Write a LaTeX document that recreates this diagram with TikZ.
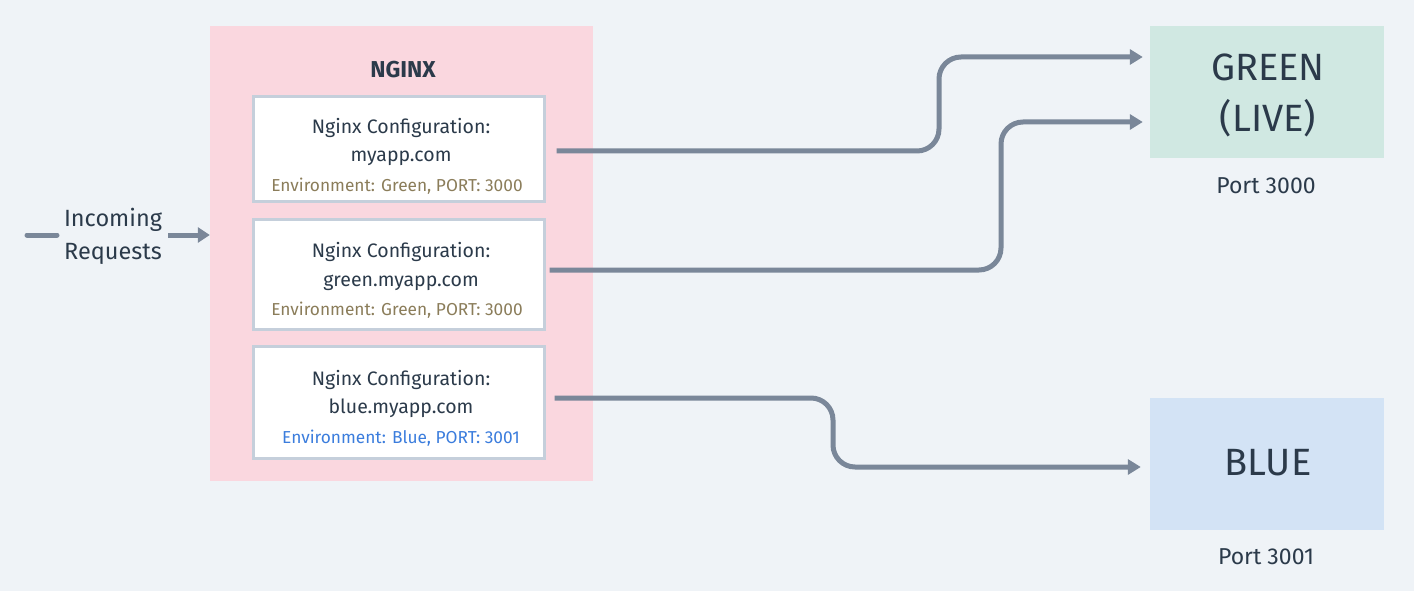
\documentclass[tikz,border=0pt]{standalone}
\usepackage{fontspec}
\setmainfont{Fira Sans}
\usetikzlibrary{arrows.meta,calc}
\definecolor{bgc}{HTML}{EFF3F7}
\definecolor{pinkc}{HTML}{FAD7DF}
\definecolor{borderc}{HTML}{C5CFDB}
\definecolor{txtc}{HTML}{2B3A4A}
\definecolor{brownc}{HTML}{8B7D5A}
\definecolor{bluetxt}{HTML}{3B7DDD}
\definecolor{greenbox}{HTML}{D0E8E2}
\definecolor{bluebox}{HTML}{D3E3F5}
\definecolor{linec}{HTML}{7A8799}
\tikzset{
  cfgbox/.style={draw=borderc, line width=3pt, fill=white, minimum width=291pt, minimum height=#1, inner sep=0pt},
  cfgtxt/.style={text=txtc, font=\fontsize{19.5}{22}\selectfont, inner sep=0pt, anchor=base},
  envtxt/.style={font=\fontsize{17.3}{20}\selectfont, inner sep=0pt, anchor=base},
  conn/.style={draw=linec, line width=5pt, rounded corners=22pt, -{Triangle[length=13pt,width=15pt]}},
  envbox/.style={minimum width=234pt, minimum height=132pt, inner sep=0pt},
  bigtxt/.style={text=txtc, font=\fontsize{38}{44}\selectfont, inner sep=0pt},
  porttxt/.style={text=txtc, font=\fontsize{23}{26}\selectfont, inner sep=0pt}
}
\begin{document}
\begin{tikzpicture}[x=1pt,y=-1pt]
\fill[bgc] (0,0) rectangle (1414,591);
\useasboundingbox (0,0) rectangle (1414,591);
% NGINX container
\node[fill=pinkc, minimum width=383pt, minimum height=455pt, inner sep=0pt] (nginx) at (401.5,253.5) {};
\node[text=txtc, font=\fontsize{23}{26}\selectfont\bfseries, inner sep=0pt] (nginxlbl) at (403,70) {NGINX};
% config boxes
\node[cfgbox=104pt] (c1) at (398.5,149) {};
\node[cfgbox=110pt] (c2) at (398.5,274) {};
\node[cfgbox=112pt] (c3) at (398.5,402) {};
\node[cfgtxt] (c1a) at (401,134) {Nginx Configuration:};
\node[cfgtxt] (c1b) at (401,162) {myapp.com};
\node[envtxt, text=brownc] (c1c) at (397,191) {Environment: Green, PORT: 3000};
\node[cfgtxt] (c2a) at (401,257) {Nginx Configuration:};
\node[cfgtxt] (c2b) at (401,286) {green.myapp.com};
\node[envtxt, text=brownc] (c2c) at (397,315) {Environment: Green, PORT: 3000};
\node[cfgtxt] (c3a) at (401,385) {Nginx Configuration:};
\node[cfgtxt] (c3b) at (401,413) {blue.myapp.com};
\node[envtxt, text=bluetxt] (c3c) at (401,443) {Environment: Blue, PORT: 3001};
% incoming
\node[text=txtc, font=\fontsize{23.5}{33}\selectfont, align=center, inner sep=0pt] (inc) at (113,236) {Incoming\\Requests};
\coordinate (incstart) at (27,235);
\draw[draw=linec, line width=5pt, line cap=round] (incstart) -- ++(30,0);
\draw[draw=linec, line width=5pt, -{Triangle[length=12pt,width=15pt]}] (168,235) -- (nginx.west |- incstart);
% environments
\node[envbox, fill=greenbox] (green) at (1267,92) {};
\node[bigtxt] (g1) at (1268,67) {GREEN};
\node[bigtxt] (g2) at (1268,118) {(LIVE)};
\node[porttxt] (p1) at (1266,186) {Port 3000};
\node[envbox, fill=bluebox] (blue) at (1267,464) {};
\node[bigtxt] (b1) at (1268,463) {BLUE};
\node[porttxt] (p2) at (1266,557) {Port 3001};
% connectors
\draw[conn] ([xshift=11pt,yshift=-2pt]c1.east) -| (939,57) -- ([xshift=-7pt]green.west |- 0,57);
\draw[conn] ([xshift=4pt,yshift=4pt]c2.east) -| (1001,122) -- ([xshift=-7pt]green.west |- 0,122);
\draw[conn] ([xshift=9pt,yshift=4pt]c3.east) -| (833,467) -- ([xshift=-9pt]blue.west |- 0,467);
\end{tikzpicture}
\end{document}
